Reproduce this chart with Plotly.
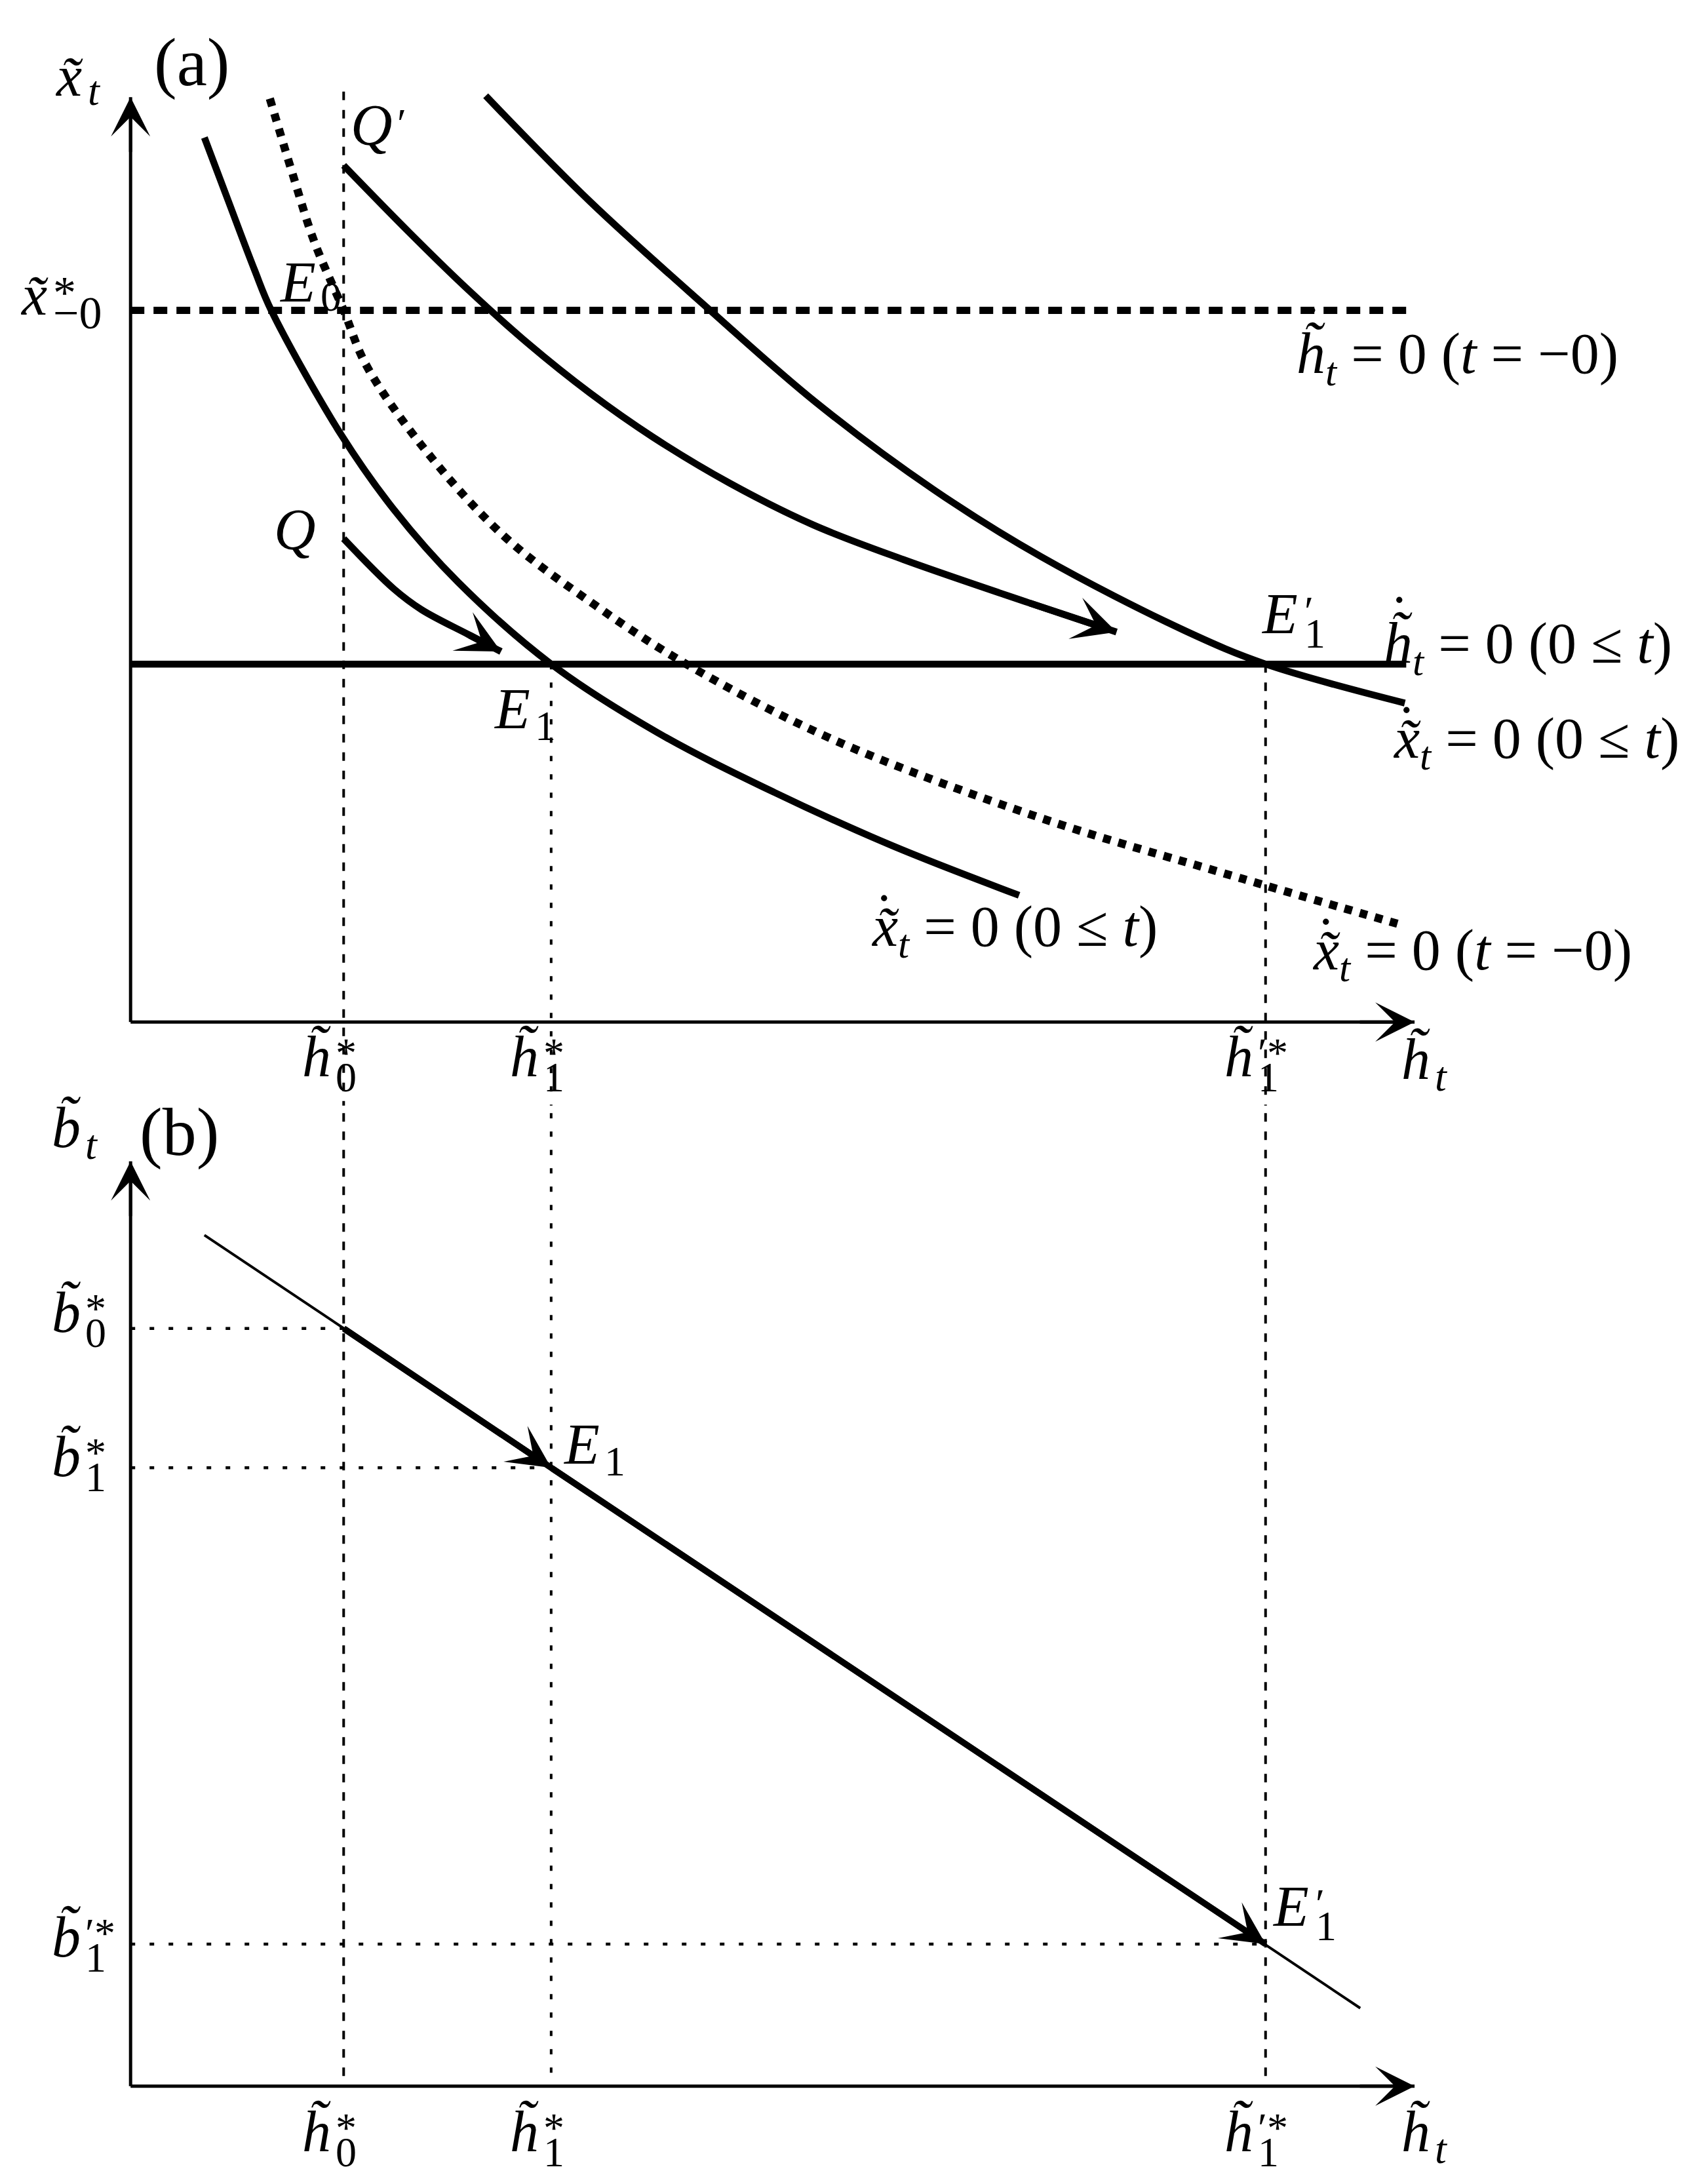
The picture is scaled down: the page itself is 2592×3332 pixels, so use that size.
import plotly.graph_objects as go

# ---------------- values ----------------
# horizontal axis: h~_t ; panel (a) vertical axis: x~_t ; panel (b) vertical axis: b~_t
H0, H1, H1P = 1.53, 3.02, 8.15          # h~*_0, h~*_1, h~'*_1
X_STAR = 5.11                            # x~*_{-0}
HDOT_LEVEL = 2.57                        # dh~/dt = 0 (0<=t)
B0, B1, B1P = 5.44, 4.44, 1.02           # b~*_0, b~*_1, b~'*_1

AXIS_H_END = 9.22
AXIS_V_END = 6.64
DASH_H_END = 9.18
SOLID_H_END = 9.16
VLINE_TOP = 6.68

# dx~/dt = 0 (0<=t), left locus
L_h = [0.53, 0.70, 0.89, 1.01, 1.51, 1.89, 2.35, 3.02, 3.78, 4.62, 5.46, 6.38]
L_x = [6.35, 5.90, 5.40, 5.11, 4.22, 3.68, 3.16, 2.57, 2.08, 1.65, 1.27, 0.91]
# dx~/dt = 0 (t=-0), dotted locus
D_h = [1.00, 1.16, 1.32, 1.53, 1.69, 2.09, 2.68, 3.34, 3.99, 5.04, 6.55, 7.81, 8.15, 9.15]
D_x = [6.63, 6.10, 5.60, 5.11, 4.72, 4.14, 3.49, 2.99, 2.57, 2.03, 1.46, 1.08, 0.98, 0.69]
# dx~/dt = 0 (0<=t), right locus
R_h = [2.55, 3.30, 4.15, 4.92, 5.77, 6.54, 7.57, 8.15, 9.15]
R_x = [6.65, 5.89, 5.12, 4.45, 3.82, 3.34, 2.81, 2.57, 2.29]
# path starting at Q'
QP_h = [1.53, 2.00, 2.40, 2.85, 3.30, 3.75, 4.30, 4.90, 5.55, 6.45, 7.08]
QP_x = [6.15, 5.67, 5.28, 4.875, 4.515, 4.20, 3.87, 3.57, 3.32, 3.01, 2.80]
# path starting at Q
Q_h = [1.53, 1.89, 2.09, 2.43, 2.66]
Q_x = [3.47, 3.11, 2.96, 2.78, 2.66]
# panel (b) locus
BL_h = [0.53, 8.83]
BL_b = [6.11, 0.56]

TICK_H = [H0, H1, H1P]
TICK_SUP = ["*", "*", "\u2032*"]
TICK_SUB = ["0", "1", "1"]
B_TICKS = [B0, B1, B1P]
B_LABEL_Y = [5.555, 4.52, 1.07]

# ---------------- styling ----------------
FONT = "Liberation Serif"
MAIN = 88
SCR = 64
BLACK = "black"
XR = [-0.90, 11.30]
YA = [-0.60, 7.30]
YB = [-0.74, 7.04]
SPLIT = 1 - 790 / 1568

HT = "h\u0303"
XT = "x\u0303"
BT = "b\u0303"

CURVE_W = 10.5
AXIS_W = 5

fig = go.Figure()


def line(xs, ys, yref, width, dash="solid", shape="linear"):
    fig.add_trace(go.Scatter(
        x=xs, y=ys, mode="lines", xaxis="x", yaxis=yref,
        line=dict(color=BLACK, width=width, dash=dash, shape=shape, smoothing=1.0),
        hoverinfo="skip", showlegend=False))


def arrow(tail, head, yref, width, size, style=3):
    fig.add_annotation(x=head[0], y=head[1], ax=tail[0], ay=tail[1],
                       xref="x", yref=yref, axref="x", ayref=yref,
                       text="", showarrow=True, arrowhead=style, arrowsize=size,
                       arrowwidth=width, arrowcolor=BLACK, standoff=0)


def text(x, y, yref, s, size=MAIN, xanchor="center", yanchor="middle", xs=0, ys=0):
    fig.add_annotation(x=x, y=y, xref="x", yref=yref, text=s, showarrow=False,
                       xanchor=xanchor, yanchor=yanchor, xshift=xs, yshift=ys,
                       font=dict(family=FONT, size=size, color=BLACK))


def stacked(x, y, yref, base, sup=None, sub=None, sup_dy=6, sub_dy=-31, size=MAIN,
            scr=SCR, gap=3):
    text(x, y, yref, base, size=size, xanchor="right")
    if sup:
        text(x, y, yref, sup, size=scr, xanchor="left", xs=gap, ys=sup_dy)
    if sub:
        text(x, y, yref, sub, size=scr, xanchor="left", xs=gap, ys=sub_dy)


def dotted_eq(x_left, y, yref, letter, rest, dot_dx, dot_dy):
    text(x_left, y, yref, f"<i>{letter}</i><sub><i>t</i></sub>" + rest, xanchor="left")
    text(x_left, y, yref, "\u02d9", xanchor="center", xs=dot_dx, ys=dot_dy)


YAref, YBref = "y", "y2"

# ---------- guide lines (both panels) ----------
for hv, top, dash in [(H0, VLINE_TOP, "13px,15px"), (H1, HDOT_LEVEL, "8px,20px"),
                      (H1P, HDOT_LEVEL, "13px,15px")]:
    line([hv, hv], [top, YA[0] - 1], YAref, 4, dash)
    line([hv, hv], [YB[1] + 1, 0], YBref, 4, dash)

for hv, bv in zip(TICK_H, B_TICKS):
    line([0, hv], [bv, bv], YBref, 4.5, "7px,22px")

# ---------- panel (a) ----------
line([0, DASH_H_END], [X_STAR, X_STAR], YAref, 11, "21px,14px")
line([0, SOLID_H_END], [HDOT_LEVEL, HDOT_LEVEL], YAref, CURVE_W)
line(D_h, D_x, YAref, 12.5, "12px,12px", "spline")
line(L_h, L_x, YAref, CURVE_W, shape="spline")
line(R_h, R_x, YAref, CURVE_W, shape="spline")
line(QP_h, QP_x, YAref, CURVE_W, shape="spline")
line(Q_h, Q_x, YAref, CURVE_W, shape="spline")
arrow((QP_h[-2], QP_x[-2]), (QP_h[-1], QP_x[-1]), YAref, CURVE_W, 1.05)
arrow((Q_h[-2], Q_x[-2]), (Q_h[-1], Q_x[-1]), YAref, CURVE_W, 1.05)

# axes of (a)
line([0, 0], [0, AXIS_V_END], YAref, AXIS_W)
line([0, AXIS_H_END], [0, 0], YAref, AXIS_W)
arrow((0, AXIS_V_END - 0.4), (0, AXIS_V_END), YAref, AXIS_W, 2.0)
arrow((AXIS_H_END - 0.4, 0), (AXIS_H_END, 0), YAref, AXIS_W, 2.0)

# ---------- panel (b) ----------
line(BL_h, BL_b, YBref, 4)
line([H0, H1, H1P], [B0, B1, B1P], YBref, 9.5)
arrow((H0, B0), (H1, B1), YBref, 9.5, 1.15)
arrow((H1, B1), (H1P, B1P), YBref, 9.5, 1.15)
line([0, 0], [0, AXIS_V_END], YBref, AXIS_W)
line([0, AXIS_H_END], [0, 0], YBref, AXIS_W)
arrow((0, AXIS_V_END - 0.4), (0, AXIS_V_END), YBref, AXIS_W, 2.0)
arrow((AXIS_H_END - 0.4, 0), (AXIS_H_END, 0), YBref, AXIS_W, 2.0)

# ---------- labels panel (a) ----------
text(0.44, 6.89, YAref, "(a)", size=104)
stacked(-0.33, 6.79, YAref, f"<i>{XT}</i>", sub="<i>t</i>", sub_dy=-22)
stacked(-0.58, 5.22, YAref, f"<i>{XT}</i>", sup="*", sub="\u22120", sup_dy=4,
        sub_dy=-27, scr=70)
stacked(1.89, 6.44, YAref, "<i>Q</i>", sup="\u2032", sup_dy=2)
stacked(1.34, 5.31, YAref, "<i>E</i>", sub="0", sub_dy=-22)
text(1.18, 3.54, YAref, "<i>Q</i>")
stacked(2.88, 2.25, YAref, "<i>E</i>", sub="1", sub_dy=-26)
stacked(8.39, 2.93, YAref, "<i>E</i>", sup="\u2032", sub="1", sup_dy=4, sub_dy=-30, gap=6)

eq_t0 = " = 0 (<i>t</i> = \u22120)"
eq_le = " = 0 (0 \u2264 <i>t</i>)"
dotted_eq(8.365, 4.77, YAref, HT, eq_t0, 25, 47)
dotted_eq(8.99, 2.69, YAref, HT, eq_le, 25, 47)
dotted_eq(9.055, 2.01, YAref, XT, eq_le, 22, 24)
dotted_eq(5.308, 0.66, YAref, XT, eq_le, 22, 24)
dotted_eq(8.476, 0.49, YAref, XT, eq_t0, 22, 24)

for hv, sp, sb in zip(TICK_H, TICK_SUP, TICK_SUB):
    stacked(hv - 0.08, -0.25, YAref, f"<i>{HT}</i>", sup=sp, sub=sb)
stacked(9.34, -0.27, YAref, f"<i>{HT}</i>", sub="<i>t</i>", sub_dy=-26)

# ---------- labels panel (b) ----------
text(0.35, 6.85, YBref, "(b)", size=104)
stacked(-0.35, 6.88, YBref, f"<i>{BT}</i>", sub="<i>t</i>", sub_dy=-26)
for by, sp, sb in zip(B_LABEL_Y, TICK_SUP, TICK_SUB):
    stacked(-0.35, by, YBref, f"<i>{BT}</i>", sup=sp, sub=sb)
stacked(3.38, 4.61, YBref, "<i>E</i>", sub="1", sub_dy=-26)
stacked(8.47, 1.29, YBref, "<i>E</i>", sup="\u2032", sub="1", sup_dy=4, sub_dy=-30, gap=6)
for hv, sp, sb in zip(TICK_H, TICK_SUP, TICK_SUB):
    stacked(hv - 0.08, -0.33, YBref, f"<i>{HT}</i>", sup=sp, sub=sb)
stacked(9.34, -0.33, YBref, f"<i>{HT}</i>", sub="<i>t</i>", sub_dy=-26)

axis_common = dict(visible=False, showgrid=False, zeroline=False, fixedrange=True)
fig.update_layout(
    width=2592, height=3332,
    margin=dict(l=0, r=0, t=0, b=0),
    paper_bgcolor="white", plot_bgcolor="white",
    showlegend=False,
    xaxis=dict(range=XR, domain=[0, 1], anchor="y", **axis_common),
    yaxis=dict(range=YA, domain=[SPLIT, 1], anchor="x", **axis_common),
    yaxis2=dict(range=YB, domain=[0, SPLIT], anchor="x", **axis_common),
)

fig.write_html("out.html")
